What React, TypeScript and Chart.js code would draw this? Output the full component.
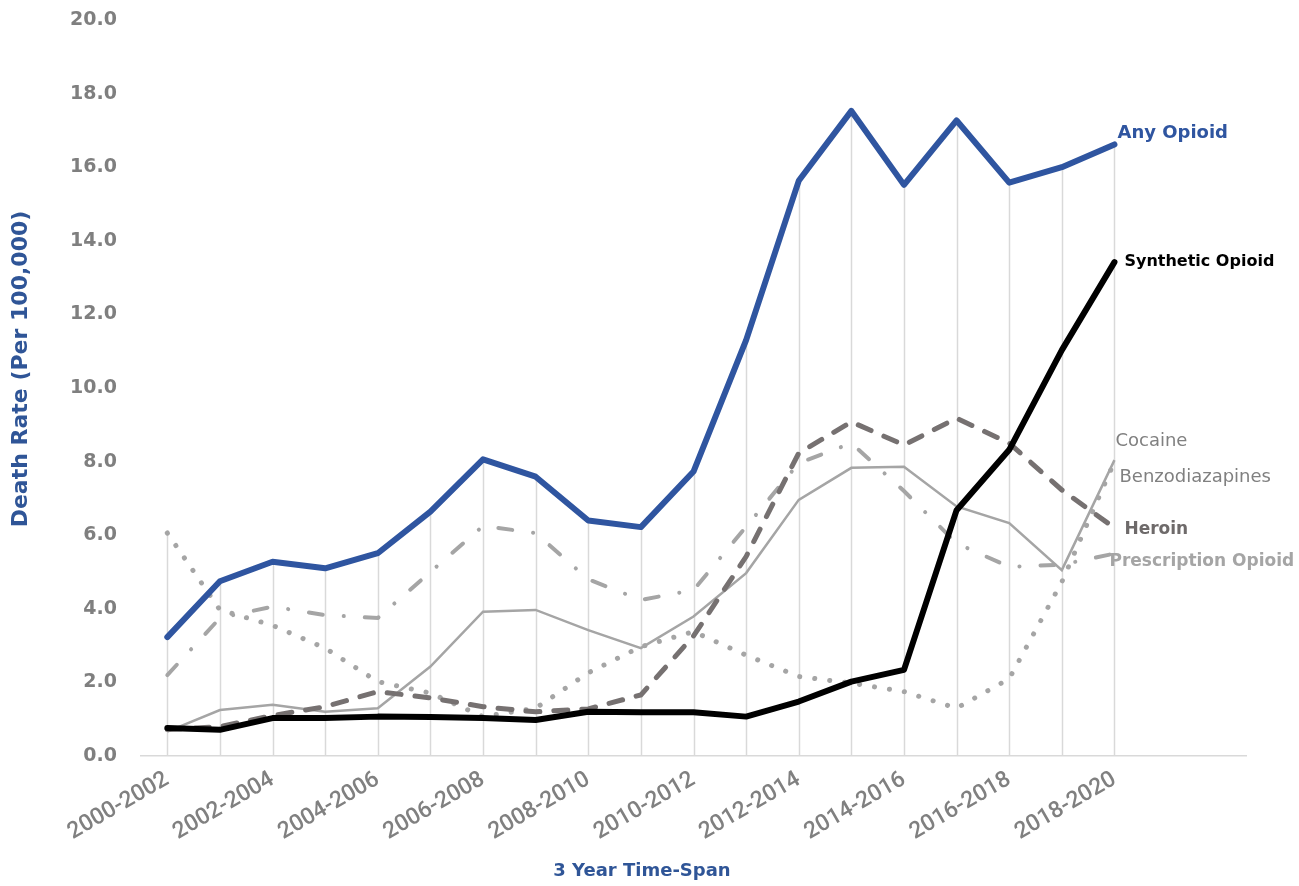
import React, { useEffect, useRef } from 'react';
import { Chart, registerables } from 'chart.js';

Chart.register(...registerables);

const CATEGORIES = [
  '2000-2002', '2001-2003', '2002-2004', '2003-2005', '2004-2006', '2005-2007',
  '2006-2008', '2007-2009', '2008-2010', '2009-2011', '2010-2012', '2011-2013',
  '2012-2014', '2013-2015', '2014-2016', '2015-2017', '2016-2018', '2017-2019',
  '2018-2020',
];
const EXTRA_SLOTS = ['', ''];

const ANY_OPIOID = [3.23, 4.75, 5.28, 5.1, 5.51, 6.64, 8.06, 7.59, 6.4, 6.22, 7.73, 11.3, 15.63, 17.53, 15.52, 17.27, 15.58, 16.0, 16.62];
const SYNTHETIC_OPIOID = [0.76, 0.71, 1.03, 1.03, 1.07, 1.06, 1.03, 0.98, 1.2, 1.19, 1.19, 1.07, 1.48, 2.02, 2.34, 6.68, 8.32, 11.03, 13.42];
const HEROIN = [0.72, 0.8, 1.1, 1.34, 1.75, 1.58, 1.34, 1.2, 1.28, 1.66, 3.26, 5.42, 8.23, 9.08, 8.45, 9.18, 8.5, 7.23, 6.2];
const PRESCRIPTION_OPIOID = [2.2, 3.75, 4.06, 3.83, 3.75, 5.0, 6.25, 6.06, 4.8, 4.24, 4.51, 6.23, 7.96, 8.5, 7.2, 5.78, 5.14, 5.2, 5.5];
const COCAINE = [6.06, 3.97, 3.55, 2.93, 2.02, 1.71, 1.07, 1.3, 2.26, 2.97, 3.38, 2.74, 2.16, 1.98, 1.75, 1.3, 2.1, 4.73, 8.0];
const BENZODIAZEPINES = [0.66, 1.25, 1.39, 1.2, 1.3, 2.43, 3.92, 3.97, 3.42, 2.93, 3.79, 4.97, 6.96, 7.83, 7.86, 6.78, 6.33, 5.05, 8.04];

const Y_MIN = 0;
const Y_MAX = 20;
const Y_STEP = 2;

const X_TITLE = '3 Year Time-Span';
const Y_TITLE = 'Death Rate (Per 100,000)';

const TITLE_BLUE = '#2f5597';
const TICK_GRAY = '#7f7f7f';

type EndLabel = { text: string; color: string; font: string; dx: number; dy: number };

const dropLinesPlugin = {
  id: 'dropLines',
  beforeDatasetsDraw(chart: any) {
    const { ctx, chartArea, scales } = chart;
    const x = scales.x;
    const y = scales.y;
    ctx.save();
    ctx.strokeStyle = '#d9d9d9';
    ctx.lineWidth = 1.5;
    for (let i = 0; i < CATEGORIES.length; i++) {
      const vals = chart.data.datasets.map((d: any) => d.data[i]).filter((v: any) => typeof v === 'number');
      const max = Math.max(...vals);
      const px = Math.round(x.getPixelForValue(i)) + 0.5;
      ctx.beginPath();
      ctx.moveTo(px, y.getPixelForValue(max));
      ctx.lineTo(px, chartArea.bottom);
      ctx.stroke();
    }
    ctx.restore();
  },
};

const endLabelsPlugin = {
  id: 'endLabels',
  afterDatasetsDraw(chart: any) {
    const { ctx } = chart;
    ctx.save();
    chart.data.datasets.forEach((ds: any, i: number) => {
      const lab: EndLabel = ds.endLabel;
      if (!lab) return;
      const meta = chart.getDatasetMeta(i);
      const pt = meta.data[ds.data.length - 1];
      if (!pt) return;
      ctx.font = lab.font;
      ctx.fillStyle = lab.color;
      ctx.textAlign = 'left';
      ctx.textBaseline = 'middle';
      ctx.fillText(lab.text, pt.x + lab.dx, pt.y + lab.dy);
    });
    ctx.restore();
  },
};

const titlesPlugin = {
  id: 'customTitles',
  afterDraw(chart: any) {
    const { ctx, chartArea } = chart;
    ctx.save();
    ctx.fillStyle = TITLE_BLUE;
    ctx.textAlign = 'center';
    ctx.textBaseline = 'middle';
    ctx.font = 'bold 18px "DejaVu Sans"';
    ctx.fillText(X_TITLE, chartArea.left + 501, 871);
    ctx.translate(21, 369);
    ctx.rotate(-Math.PI / 2);
    ctx.font = 'bold 22px "DejaVu Sans"';
    ctx.fillText(Y_TITLE, 0, 0);
    ctx.restore();
  },
};

export default function App() {
  const canvasRef = useRef<HTMLCanvasElement | null>(null);

  useEffect(() => {
    if (!canvasRef.current) return;
    const labels = [...CATEGORIES, ...EXTRA_SLOTS];
    const chart = new Chart(canvasRef.current, {
      type: 'line',
      data: {
        labels,
        datasets: [
          {
            label: 'Any Opioid',
            data: ANY_OPIOID,
            borderColor: '#2f55a0',
            borderWidth: 6,
            pointRadius: 0,
            borderJoinStyle: 'round',
            borderCapStyle: 'round',
            tension: 0,
            order: 1,
            endLabel: { text: 'Any Opioid', color: '#2f55a0', font: 'bold 18px "DejaVu Sans"', dx: 3, dy: -11 },
          } as any,
          {
            label: 'Synthetic Opioid',
            data: SYNTHETIC_OPIOID,
            borderColor: '#000000',
            borderWidth: 6,
            pointRadius: 0,
            borderJoinStyle: 'round',
            borderCapStyle: 'round',
            tension: 0,
            order: 2,
            endLabel: { text: 'Synthetic Opioid', color: '#000000', font: 'bold 16px "DejaVu Sans"', dx: 10, dy: 0 },
          } as any,
          {
            label: 'Heroin',
            data: HEROIN,
            borderColor: '#767171',
            borderWidth: 5,
            borderDash: [14, 14],
            borderCapStyle: 'round',
            pointRadius: 0,
            tension: 0,
            order: 3,
            endLabel: { text: 'Heroin', color: '#6e6a6a', font: 'bold 17px "DejaVu Sans"', dx: 10, dy: 2 },
          } as any,
          {
            label: 'Prescription Opioid',
            data: PRESCRIPTION_OPIOID,
            borderColor: '#a5a5a5',
            borderWidth: 4,
            borderDash: [14, 21, 0.1, 21],
            borderCapStyle: 'round',
            pointRadius: 0,
            tension: 0,
            order: 4,
            endLabel: { text: 'Prescription Opioid', color: '#a5a5a5', font: 'bold 17px "DejaVu Sans"', dx: -5, dy: 8 },
          } as any,
          {
            label: 'Cocaine',
            data: COCAINE,
            borderColor: '#a5a5a5',
            borderWidth: 5,
            borderDash: [0.1, 15],
            borderCapStyle: 'round',
            pointRadius: 0,
            tension: 0,
            order: 5,
            endLabel: { text: 'Cocaine', color: '#808080', font: '18px "DejaVu Sans"', dx: 1, dy: -20 },
          } as any,
          {
            label: 'Benzodiazapines',
            data: BENZODIAZEPINES,
            borderColor: '#a5a5a5',
            borderWidth: 2.5,
            pointRadius: 0,
            tension: 0,
            order: 6,
            endLabel: { text: 'Benzodiazapines', color: '#808080', font: '18px "DejaVu Sans"', dx: 5, dy: 17 },
          } as any,
        ],
      },
      options: {
        animation: false,
        responsive: true,
        maintainAspectRatio: false,
        layout: { padding: { left: 0, right: 53, top: 20, bottom: 0 } },
        plugins: {
          legend: { display: false },
          tooltip: { enabled: false },
          title: { display: false },
        },
        scales: {
          x: {
            type: 'category',
            offset: true,
            grid: { display: false, drawTicks: false },
            border: { display: true, color: '#d9d9d9', width: 1.5 },
            ticks: {
              autoSkip: false,
              minRotation: 30,
              maxRotation: 30,
              padding: 10,
              color: '#808080',
              font: { family: 'Roboto', size: 23, weight: 500 },
              callback: (_v: any, idx: number) => (idx % 2 === 0 && idx < CATEGORIES.length ? CATEGORIES[idx] : ''),
            },
            afterFit: (scale: any) => {
              scale.height = 130;
              scale.paddingTop = 0;
              scale.paddingBottom = 0;
            },
          },
          y: {
            min: Y_MIN,
            max: Y_MAX,
            grid: { display: false, drawTicks: false },
            border: { display: false },
            ticks: {
              stepSize: Y_STEP,
              padding: 24,
              color: TICK_GRAY,
              font: { family: 'DejaVu Sans', size: 19, weight: 'bold' },
              callback: (v: any) => Number(v).toFixed(1),
            },
            afterFit: (scale: any) => {
              scale.width = 141;
              scale.paddingTop = 0;
              scale.paddingBottom = 0;
            },
          },
        },
      },
      plugins: [dropLinesPlugin, endLabelsPlugin, titlesPlugin],
    });
    return () => chart.destroy();
  }, []);

  return (
    <div style={{ position: 'fixed', left: 0, top: 0, width: 1299, height: 886, background: '#ffffff' }}>
      <canvas ref={canvasRef} />
    </div>
  );
}
